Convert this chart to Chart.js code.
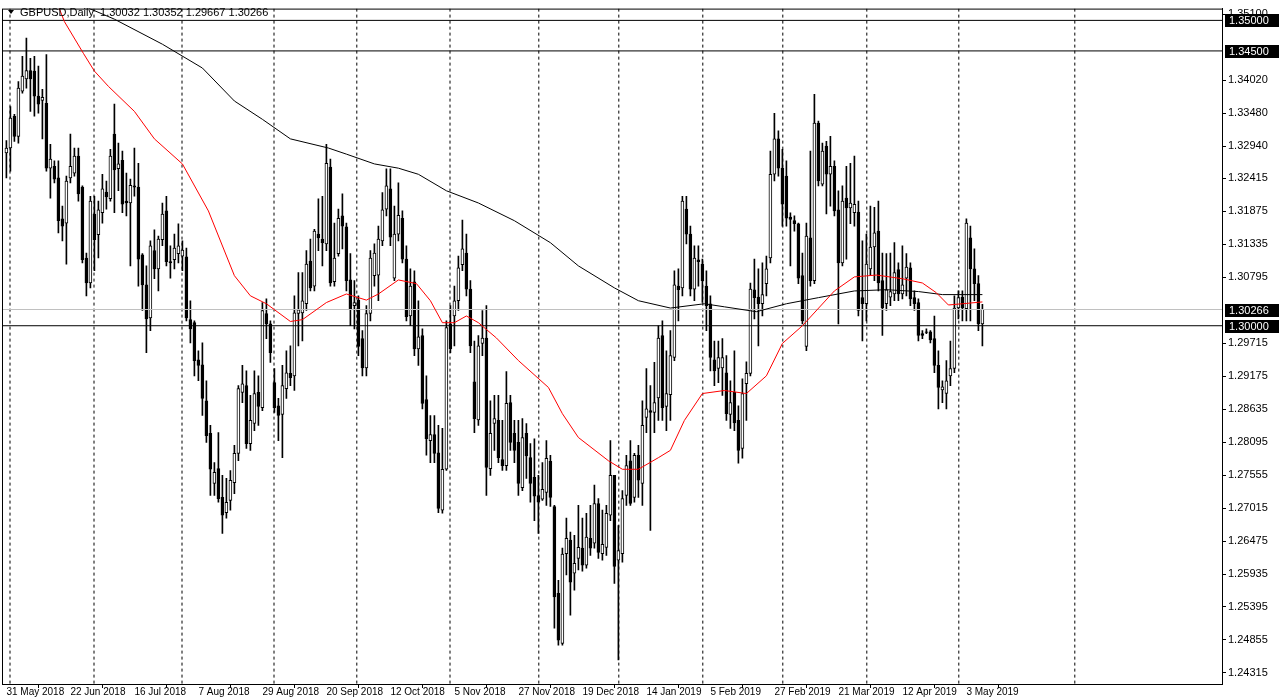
<!DOCTYPE html>
<html>
<head>
<meta charset="utf-8">
<script src="https://cdn.jsdelivr.net/npm/chart.js@4/dist/chart.umd.min.js"></script>
<style>
  html, body { margin: 0; padding: 0; background: #fff; }
  #wrap { width: 1283px; height: 699px; position: relative; }
</style>
</head>
<body>
<div id="wrap"><canvas id="chart" width="1283" height="699"></canvas></div>
<script>
// prices in pips above 1.2000 (1291 -> 1.3291)
const opens = [
  1283,1291,1343,1310,1384,1404,1418,1417,1376,1369,
  1364,1258,1261,1242,1175,1168,1242,1250,1278,1227,
  1111,1070,1183,1149,1185,1219,1208,1314,1257,1271,
  1204,1201,1229,1227,1116,1067,1013,1123,1093,1141,
  1188,1105,1108,1118,1114,1113,1010,1005,944,936,
  877,824,742,766,719,694,714,743,791,891,
  902,807,840,891,866,1020,1003,907,869,855,
  897,922,918,1020,1021,1036,1106,1065,1150,1142,
  1134,1260,1072,1118,1180,1162,1075,1033,1042,979,
  931,1020,1082,1083,1139,1191,1224,1078,1150,1176,
  1109,1016,1072,962,984,879,812,822,792,698,
  765,1003,1016,1041,1100,1119,1060,908,846,971,
  980,766,840,845,781,771,874,824,809,735,
  824,784,752,722,716,727,778,704,562,480,
  627,649,595,619,636,608,652,644,709,627,
  637,690,755,616,627,722,779,719,788,742,
  850,861,858,882,984,868,887,948,1065,1062,
  1191,1150,1060,1108,1101,1065,1036,944,930,931,
  923,855,891,845,799,905,922,1059,1047,1036,
  1069,1111,1248,1306,1258,1245,1178,1172,1167,1082,
  966,1144,1074,1332,1232,1294,1248,1261,1190,1103,
  1209,1193,1185,1186,1046,1036,1093,1129,1155,1074,
  1036,1047,1052,1092,1052,1078,1095,1046,1038,987,
  990,990,979,935,895,889,918,930,1029,1047,
  1028,1144,1093,1069,1003
];
const highs = [
  1303,1359,1346,1400,1441,1471,1438,1441,1425,1387,
  1444,1297,1270,1270,1196,1245,1314,1291,1291,1229,
  1119,1212,1212,1204,1248,1237,1289,1363,1299,1286,
  1250,1240,1291,1266,1118,1098,1139,1157,1147,1201,
  1212,1131,1150,1167,1139,1127,1041,1008,959,972,
  910,837,776,825,755,750,763,804,902,935,
  926,886,926,918,1038,1044,1008,930,881,935,
  959,967,1049,1087,1087,1123,1142,1158,1208,1212,
  1297,1273,1168,1191,1216,1168,1118,1074,1049,992,
  1033,1123,1134,1163,1218,1257,1257,1196,1234,1188,
  1131,1093,1090,1041,995,918,853,853,837,832,
  1008,1033,1065,1114,1173,1150,1074,975,984,1025,
  1033,877,886,886,845,925,886,845,845,848,
  840,807,815,755,776,812,788,706,583,636,
  685,662,657,706,685,693,706,739,717,698,
  706,812,755,673,730,788,812,791,804,877,
  930,902,940,1000,1008,959,992,1090,1093,1212,
  1212,1163,1131,1131,1109,1090,1049,975,975,979,
  951,910,959,869,913,941,1070,1109,1093,1103,
  1114,1286,1348,1319,1289,1270,1185,1180,1168,1119,
  1168,1286,1379,1335,1299,1302,1310,1270,1221,1229,
  1261,1266,1278,1204,1139,1150,1196,1194,1204,1119,
  1118,1119,1136,1103,1131,1118,1103,1057,1044,992,
  995,992,1016,959,910,943,975,1049,1057,1057,
  1175,1163,1126,1082,1035
];
const lows = [
  1242,1253,1302,1299,1381,1389,1351,1343,1348,1306,
  1253,1209,1234,1152,1139,1101,1234,1245,1204,1103,
  1049,1062,1090,1111,1168,1191,1204,1185,1221,1185,
  1180,1098,1212,1065,1025,956,992,1077,1057,1131,
  1098,1078,1093,1103,1090,1008,972,918,910,853,
  809,722,722,711,660,685,698,725,779,874,
  799,796,828,837,861,979,940,858,812,784,
  881,902,894,967,975,1025,1057,1057,1123,1098,
  1123,1065,1065,1114,1126,1057,1000,995,951,918,
  918,1008,1065,1041,1131,1180,1131,1074,1139,1103,
  1008,1000,951,935,864,788,776,776,694,693,
  763,956,967,1025,1090,1049,956,825,837,951,
  722,755,796,776,763,763,796,776,722,730,
  750,711,681,660,714,706,704,505,477,477,
  592,526,567,600,598,603,624,636,619,616,
  624,681,578,453,613,706,706,711,719,706,
  825,665,825,845,845,828,845,943,1008,1049,
  1134,1049,1041,1065,1038,992,926,902,907,886,
  845,832,828,775,783,845,918,1011,967,1016,
  1049,1103,1237,1245,1163,1163,1098,1155,1069,1003,
  959,1065,1069,1229,1229,1183,1196,1180,1003,1098,
  1109,1167,1163,1016,975,1008,1082,1074,1057,984,
  1025,1033,1041,1041,1044,1049,1033,1025,975,979,
  987,972,923,864,874,864,902,923,1011,1008,
  1008,1008,1041,992,967
];
const closes = [
  1291,1340,1310,1389,1409,1418,1404,1376,1363,1374,
  1258,1273,1240,1172,1163,1237,1261,1278,1216,1108,
  1070,1204,1141,1190,1224,1211,1278,1255,1265,1199,
  1201,1230,1227,1109,1067,1011,1131,1093,1142,1183,
  1105,1103,1127,1131,1124,1013,995,943,935,881,
  820,765,760,717,690,711,747,791,897,905,
  807,845,889,868,1025,1003,956,866,853,902,
  923,915,1021,1026,1041,1101,1062,1155,1144,1136,
  1266,1070,1111,1176,1163,1074,1028,1038,966,931,
  1020,1111,1119,1142,1190,1229,1145,1150,1181,1109,
  1015,1065,962,982,873,815,822,791,701,765,
  997,962,1041,1095,1126,1060,967,848,967,980,
  768,824,848,784,771,873,809,796,742,817,
  787,742,721,711,732,783,719,556,485,626,
  652,580,611,637,608,654,636,709,629,642,
  693,755,606,632,717,771,709,788,747,837,
  864,858,874,980,866,889,951,1067,1059,1204,
  1150,1060,1111,1105,1074,1033,948,926,948,948,
  856,874,841,796,889,922,1060,1046,1036,1051,
  1093,1248,1306,1258,1199,1176,1174,1167,1078,1008,
  1147,1074,1332,1237,1286,1248,1261,1188,1103,1204,
  1193,1201,1199,1025,1036,1101,1129,1152,1070,1029,
  1059,1056,1087,1052,1067,1096,1044,1036,984,984,
  989,977,935,899,900,910,930,1029,1046,1029,
  1168,1093,1069,1003,1027
];

// moving averages, read at sparse bar positions
const ma50Bars = [13,14.5,19.25,22,25.5,32,37,44,50.5,57,61,65,71,74,80,85,90,93,98,102.5,106,109,112,115,118,122.5,128,135.5,139,143,150.5,154,158,163,166,169.5,174,179.5,185,190,194,199,207,212,217.5,224,229,232.5,235.5,239,244];
const ma50 = [1523,1498,1446,1417,1392,1351,1306,1265,1188,1082,1049,1036,1007,1010,1038,1052,1042,1052,1075,1069,1041,1005,1005,1016,1005,980,943,899,856,817,779,765,765,784,796,845,889,894,889,918,971,1000,1057,1080,1083,1077,1070,1054,1034,1036,1039];
const ma200Bars = [12,19.5,27,39,49,57,64,71,80.5,85,92,98,103,110,118,127,136,143,152,158,166,174.5,179.5,187.5,195,203,212,220,228,234,244];
const ma200 = [1545,1523,1502,1461,1422,1368,1338,1306,1291,1281,1265,1258,1248,1221,1201,1172,1136,1098,1062,1041,1029,1036,1031,1023,1036,1046,1057,1059,1056,1051,1051];

const dateTickBars = [0,16,32,48,64,80,96,112,128,144,160,176,192,208,224,240];
const dateTickLabels = ['31 May 2018','22 Jun 2018','16 Jul 2018','7 Aug 2018','29 Aug 2018','20 Sep 2018','12 Oct 2018','5 Nov 2018','27 Nov 2018','19 Dec 2018','14 Jan 2019','5 Feb 2019','27 Feb 2019','21 Mar 2019','12 Apr 2019','3 May 2019'];
const monthGridBars = [0.9,21.9,43.9,66.9,87.6,110.9,133.1,153.1,174.1,194.1,215.1,238.1,267.1];
const priceTicks = [1.35100,1.34020,1.33480,1.32940,1.32415,1.31875,1.31335,1.30795,1.29715,1.29175,1.28635,1.28095,1.27555,1.27015,1.26475,1.25935,1.25395,1.24855,1.24315];
const levelLines = [1.35000, 1.34500, 1.30000];
const lastPrice = 1.30266;

const Y_MIN = 1.24134, Y_MAX = 1.35193;
const X_MIN = -1.1, X_MAX = 303.9;
const FONT = '"Liberation Sans", Arial, sans-serif';
const px = (p) => 1.2 + p / 10000;

const wicks = opens.map((o, i) => ({ x: i, y: [px(lows[i]), px(highs[i])] }));
const bodies = opens.map((o, i) => ({ x: i, y: [px(o), px(closes[i])] }));
const bull = opens.map((o, i) => closes[i] >= o);

const gridPts = [];
monthGridBars.forEach((b) => {
  gridPts.push({ x: b, y: Y_MAX }, { x: b, y: Y_MIN }, { x: b, y: null });
});

function hline(v, color) {
  return {
    type: 'line', data: [{ x: X_MIN, y: v }, { x: X_MAX, y: v }],
    borderColor: color, borderWidth: 1, pointRadius: 0, order: -1
  };
}

const frameAndLabels = {
  id: 'frameAndLabels',
  afterDraw(chart) {
    const { ctx, chartArea: a, scales: { y } } = chart;
    ctx.save();
    ctx.strokeStyle = '#000';
    ctx.lineWidth = 1;
    ctx.strokeRect(a.left + 0.5, a.top + 0.5, a.right - a.left, a.bottom - a.top);
    ctx.font = '11px ' + FONT;
    ctx.textBaseline = 'middle';
    [...levelLines, lastPrice].forEach((v) => {
      const yy = Math.round(y.getPixelForValue(v));
      ctx.fillStyle = '#000';
      ctx.fillRect(a.right + 3, yy - 6, 54, 13);
      ctx.fillStyle = '#fff';
      ctx.fillText(v.toFixed(5), a.right + 7, yy + 1);
    });
    // header
    ctx.fillStyle = '#000';
    ctx.beginPath();
    ctx.moveTo(8, 10); ctx.lineTo(14, 10); ctx.lineTo(11, 14); ctx.closePath(); ctx.fill();
    ctx.fillText('GBPUSD,Daily  1.30032 1.30352 1.29667 1.30266', 20, 13);
    ctx.restore();
  }
};

new Chart(document.getElementById('chart'), {
  type: 'bar',
  data: {
    datasets: [
      { data: bodies, backgroundColor: bull.map((b) => (b ? '#fff' : '#000')), borderColor: '#000',
        borderWidth: 1, borderSkipped: false, barThickness: 3, grouped: false, order: 0 },
      { data: wicks, backgroundColor: '#000', barThickness: 1, grouped: false, order: 1 },
      { type: 'line', data: ma50Bars.map((b, i) => ({ x: b, y: px(ma50[i]) })), borderColor: '#ff0000',
        borderWidth: 1, pointRadius: 0, order: -1 },
      { type: 'line', data: ma200Bars.map((b, i) => ({ x: b, y: px(ma200[i]) })), borderColor: '#000',
        borderWidth: 1, pointRadius: 0, order: -1 },
      { type: 'line', data: gridPts, borderColor: '#000', borderWidth: 1, borderDash: [3, 3],
        pointRadius: 0, spanGaps: false, order: 2 },
      hline(levelLines[0], '#000'),
      hline(levelLines[1], '#000'),
      hline(levelLines[2], '#000'),
      hline(lastPrice, '#c0c0c0')
    ]
  },
  options: {
    responsive: false,
    animation: false,
    devicePixelRatio: 1,
    layout: { padding: { left: 2, top: 5, right: 0, bottom: 0 } },
    plugins: { legend: { display: false }, tooltip: { enabled: false } },
    scales: {
      x: {
        type: 'linear', min: X_MIN, max: X_MAX, offset: false,
        afterBuildTicks: (s) => { s.ticks = dateTickBars.map((v) => ({ value: v })); },
        afterFit: (s) => { s.height = 15; },
        ticks: {
          autoSkip: false, maxRotation: 0, align: 'start', padding: -2, color: '#000',
          font: { family: FONT, size: 10 },
          callback: (v) => dateTickLabels[dateTickBars.indexOf(v)]
        },
        grid: { drawOnChartArea: false, tickLength: 4, color: '#000' },
        border: { color: '#000' }
      },
      y: {
        position: 'right', min: Y_MIN, max: Y_MAX,
        afterBuildTicks: (s) => { s.ticks = priceTicks.map((v) => ({ value: v })); },
        afterFit: (s) => { s.width = 61; },
        ticks: {
          color: '#000', padding: 2,
          font: { family: FONT, size: 11 },
          callback: (v) => v.toFixed(5)
        },
        grid: { drawOnChartArea: false, tickLength: 4, color: '#000' },
        border: { color: '#000' }
      }
    }
  },
  plugins: [frameAndLabels]
});
</script>
</body>
</html>
